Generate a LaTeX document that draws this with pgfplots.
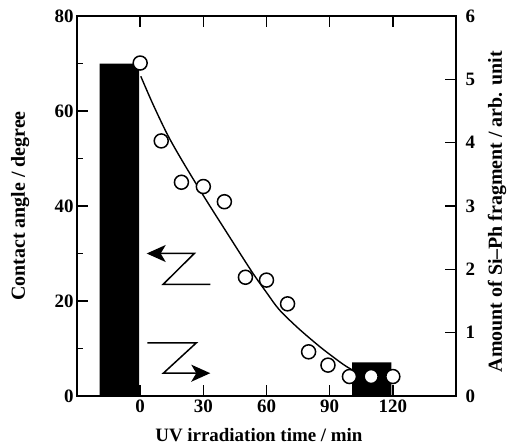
\documentclass[border=0pt]{standalone}
\usepackage{fontspec}
\setmainfont{Liberation Serif}
\usepackage{pgfplots}
\pgfplotsset{compat=1.18}
\usetikzlibrary{arrows.meta}
\begin{document}
\begin{tikzpicture}
\useasboundingbox (0,0) rectangle (508bp,447bp);
\pgfplotsset{
  common/.style={
    scale only axis, width=379bp, height=380bp,
    at={(77bp,51bp)}, anchor=south west,
    xmin=-30, xmax=150,
    axis line style={line width=1.7bp},
    every tick/.style={black, line width=1.5bp},
    major tick length=11bp, minor tick length=6bp,
    tick align=inside,
    tick label style={font=\fontsize{19}{21}\selectfont\bfseries},
    label style={font=\fontsize{19}{21}\selectfont\bfseries},
    /pgf/number format/assume math mode=true,
  }
}
% right axis: Si-Ph fragment bars
\begin{axis}[common,
  axis x line=none, axis y line*=right,
  ymin=0, ymax=6, ytick={0,1,2,3,4,5,6},
  yticklabel style={xshift=6bp},
  ylabel={Amount of Si--Ph fragment / arb. unit},
  ylabel style={font=\fontsize{20}{22}\selectfont\bfseries,
    at={(axis description cs:1.108,0.485)}, anchor=center},
]
\addplot[ybar, bar width=18.7, bar shift=0pt, fill=black, draw=none]
  coordinates {(-9.85,5.25) (110,0.53)};
\end{axis}
% left axis: contact angle
\begin{axis}[common,
  ymin=0, ymax=80, ytick={0,20,40,60,80}, minor ytick={10,30,50,70},
  xtick={0,30,60,90,120}, xtick pos=both, xticklabel pos=lower, ytick pos=left,
  ylabel={Contact angle / degree},
  ylabel style={font=\fontsize{20}{22}\selectfont\bfseries,
    at={(axis description cs:-0.15,0.5)}, anchor=center},
  xlabel={UV irradiation time / min},
  xlabel style={at={(axis description cs:0.48,-0.12)}, anchor=base},
]
\addplot[only marks, mark=*, mark size=7bp,
  mark options={fill=white, draw=black, line width=1.5bp}]
  coordinates {(0,70.1) (10,53.7) (19.6,45) (30,44.1) (40,40.9) (50,25)
  (60,24.4) (70,19.4) (80,9.3) (89.2,6.5) (99.4,4.1) (109.7,4.1) (120,4.1)};
\addplot[smooth, tension=0.5, line width=1.4bp, black]
  coordinates {(0.3,67.3) (6,61.5) (13,55) (20,49.5) (30,42.2) (40,35.2)
  (53,26.2) (60,21.8) (66,18.2) (75,14.3) (85,10.5) (92,8.1) (98,6.2)
  (105,4.5) (112,3.2)};
\draw[line width=1.5bp, -{Stealth[length=19bp,width=17bp,inset=5bp]}]
  (axis cs:33.3,23.5) -- (axis cs:10.9,23.5) -- (axis cs:25.7,30) -- (axis cs:3.1,30);
\draw[line width=1.5bp, -{Stealth[length=19bp,width=17bp,inset=5bp]}]
  (axis cs:3.4,11.2) -- (axis cs:26.7,11.2) -- (axis cs:11,4.8) -- (axis cs:33.3,4.8);
\end{axis}
\end{tikzpicture}
\end{document}
